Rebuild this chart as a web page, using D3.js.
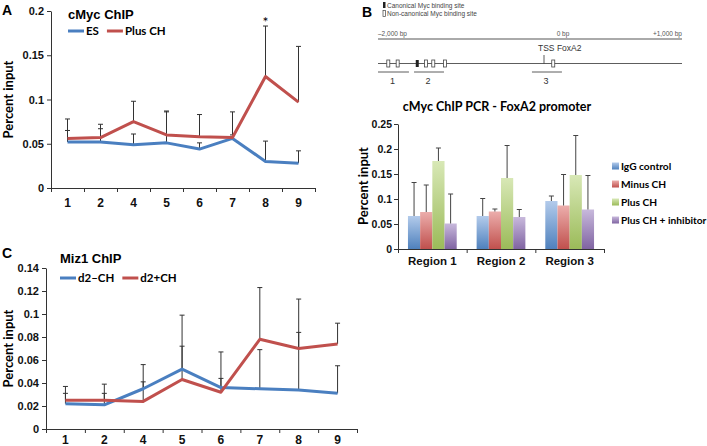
<!DOCTYPE html>
<html>
<head>
<meta charset="utf-8">
<script src="https://cdn.jsdelivr.net/npm/d3@7"></script>
<style>
  body { margin: 0; background: #fff; }
  svg { font-family: Lato, "Open Sans", sans-serif; }
  .axis text { font-weight: bold; fill: #111; }
  .axis path, .axis line { stroke: #333; }
</style>
</head>
<body>
<svg id="fig" width="707" height="446"></svg>
<script>
// ---- data ----
const sites = ["1", "2", "4", "5", "6", "7", "8", "9"]

// panel A: cMyc ChIP
const esVals = [0.052, 0.052, 0.049, 0.051, 0.044, 0.056, 0.030, 0.028]
const esErr = [0.065, 0.067, 0.061, 0.086, 0.051, 0.060, 0.053, 0.042]
const plusVals = [0.056, 0.057, 0.075, 0.060, 0.058, 0.057, 0.126, 0.097]
const plusErr = [0.078, 0.072, 0.098, 0.087, 0.083, 0.086, 0.183, 0.160]
const aTicks = [0, 0.05, 0.1, 0.15, 0.2]

// panel C: Miz1 ChIP
const minusCHVals = [0.022, 0.021, 0.035, 0.052, 0.036, 0.035, 0.034, 0.031]
const minusCHErr = [0.031, 0.031, 0.056, 0.099, 0.067, 0.069, 0.084, 0.055]
const plusCHVals = [0.025, 0.025, 0.024, 0.043, 0.032, 0.078, 0.070, 0.074]
const plusCHErr = [0.037, 0.039, 0.041, 0.072, 0.044, 0.123, 0.113, 0.092]
const cTicks = [0, 0.02, 0.04, 0.06, 0.08, 0.1, 0.12, 0.14]

// panel B: bars
const regions = ["Region 1", "Region 2", "Region 3"]
const conditions = ["IgG control", "Minus CH", "Plus CH", "Plus CH + inhibitor"]
const barVals = [
  [0.066, 0.074, 0.176, 0.051],
  [0.066, 0.075, 0.142, 0.064],
  [0.096, 0.087, 0.148, 0.079],
]
const barErr = [
  [0.133, 0.128, 0.202, 0.110],
  [0.101, 0.080, 0.207, 0.079],
  [0.106, 0.149, 0.227, 0.147],
]
const bTicks = [0, 0.05, 0.1, 0.15, 0.2, 0.25]

// panel B: promoter diagram (bp)
const canonicalSites = [-1527]
const nonCanonicalSites = [-1876, -1763, -1422, -1334, -1193, 67]
const ampliconNames = ["1", "2", "3"]
const ampliconStart = [-2000, -1566, -145]
const ampliconEnd = [-1627, -1205, 130]

const blue = "#4a7fc0"
const red = "#c0504d"
const barColors = ["#4f81bd", "#c0504d", "#9bbb59", "#8064a2"]
const barLight = ["#b3cbeb", "#ecaeac", "#d8e8b6", "#c8b9dc"]

const svg = d3.select("#fig")
const fmt = d => d === 0 ? "0" : String(+d.toFixed(2))

// ---- line chart helper ----
function drawLinePanel(opt) {
  const g = svg.append("g")
  const xBand = d3.scaleBand().domain(sites).range(opt.xRange)
  const xEdge = d3.scaleLinear().domain([0, sites.length]).range(opt.xRange)
  const y = d3.scaleLinear().domain(opt.yDomain).range(opt.yRange)
  const cx = d => xBand(d) + xBand.bandwidth() / 2

  // y axis
  g.append("g").attr("class", "axis")
    .attr("transform", `translate(${opt.xRange[0]},0)`)
    .call(d3.axisLeft(y).tickValues(opt.ticks).tickFormat(fmt).tickSize(4).tickSizeOuter(0))
    .call(a => a.selectAll("text").style("font-size", "11px").attr("x", -7))

  // x axis: boundary ticks + labels
  g.append("g").attr("class", "axis")
    .attr("transform", `translate(0,${opt.yRange[0]})`)
    .call(d3.axisBottom(xEdge).ticks(sites.length).tickFormat("").tickSize(4).tickSizeOuter(4))
  g.append("g").attr("class", "axis")
    .attr("transform", `translate(0,${opt.yRange[0]})`)
    .call(d3.axisBottom(xBand).tickSize(0))
    .call(a => a.select(".domain").remove())
    .call(a => a.selectAll("text").style("font-size", "12px").attr("dy", opt.xLabelDy))

  // error bars (upper only)
  opt.series.forEach(s => {
    const eb = g.append("g").attr("stroke", "#333").attr("stroke-width", 1)
    sites.forEach((k, i) => {
      eb.append("line").attr("x1", cx(k)).attr("x2", cx(k))
        .attr("y1", y(s.vals[i])).attr("y2", y(s.err[i]))
      eb.append("line").attr("x1", cx(k) - 2.5).attr("x2", cx(k) + 2.5)
        .attr("y1", y(s.err[i])).attr("y2", y(s.err[i]))
    })
  })

  // lines
  const line = d3.line().x((d, i) => cx(sites[i])).y(d => y(d))
  opt.series.forEach(s => {
    g.append("path").datum(s.vals)
      .attr("d", line)
      .attr("fill", "none")
      .attr("stroke", s.color)
      .attr("stroke-width", 3)
      .attr("stroke-linejoin", "round")
  })

  // y label
  g.append("text")
    .attr("transform", `translate(${opt.yLabelX},${(opt.yRange[0] + opt.yRange[1]) / 2}) rotate(-90)`)
    .attr("text-anchor", "middle")
    .style("font-size", "13px").style("font-weight", "bold")
    .text("Percent input")

  // panel letter + title
  g.append("text").attr("x", 2).attr("y", opt.letterY)
    .style("font-size", "14px").style("font-weight", "bold").style("font-family", "Liberation Sans")
    .text(opt.letter)
  g.append("text").attr("x", opt.titleX).attr("y", opt.titleY)
    .style("font-size", "13px").style("font-weight", "bold").style("font-family", "Liberation Sans")
    .text(opt.title)

  // legend
  let lx = opt.titleX
  opt.series.forEach(s => {
    g.append("line").attr("x1", lx).attr("x2", lx + 16)
      .attr("y1", opt.legendY).attr("y2", opt.legendY)
      .attr("stroke", s.color).attr("stroke-width", 3)
    const t = g.append("text").attr("x", lx + 18).attr("y", opt.legendY + 4)
      .style("font-size", "11.5px").style("font-weight", "bold").text(s.name)
    lx += 18 + t.node().getComputedTextLength() + 8
  })
}

drawLinePanel({
  letter: "A", letterY: 15, title: "cMyc ChIP", titleX: 68, titleY: 19, legendY: 31,
  xRange: [51, 315], yRange: [188, 11], yDomain: [0, 0.2], ticks: aTicks, yLabelX: 13,
  xLabelDy: "1.33em",
  series: [
    { name: "ES", vals: esVals, err: esErr, color: blue },
    { name: "Plus CH", vals: plusVals, err: plusErr, color: red },
  ],
})

// significance star over site 8
{
  const xb = d3.scaleBand().domain(sites).range([51, 315])
  svg.append("text").attr("x", xb("8") + xb.bandwidth() / 2).attr("y", 27)
    .attr("text-anchor", "middle").style("font-size", "14px").text("*")
}

drawLinePanel({
  letter: "C", letterY: 258, title: "Miz1 ChIP", titleX: 60, titleY: 263, legendY: 278,
  xRange: [46, 357], yRange: [429, 268], yDomain: [0, 0.14], ticks: cTicks, yLabelX: 12.5,
  xLabelDy: "0.98em",
  series: [
    { name: "d2\u2013CH", vals: minusCHVals, err: minusCHErr, color: blue },
    { name: "d2+CH", vals: plusCHVals, err: plusCHErr, color: red },
  ],
})

// ---- panel B: promoter diagram ----
{
  const g = svg.append("g")
  const bp = d3.scaleLinear().domain([-2000, 0, 1000]).range([378, 544, 682])
  g.append("text").attr("x", 362).attr("y", 17)
    .style("font-size", "14px").style("font-weight", "bold").style("font-family", "Liberation Sans").text("B")

  // key
  g.append("rect").attr("x", 383).attr("y", 2).attr("width", 2.5).attr("height", 6).attr("fill", "#222")
  g.append("text").attr("x", 387).attr("y", 8).style("font-size", "6.5px").style("font-family", "Liberation Sans")
    .attr("fill", "#444").text("Canonical Myc binding site")
  g.append("rect").attr("x", 383).attr("y", 10.5).attr("width", 2.5).attr("height", 6)
    .attr("fill", "#fff").attr("stroke", "#444").attr("stroke-width", 0.7)
  g.append("text").attr("x", 387).attr("y", 16).style("font-size", "6.5px").style("font-family", "Liberation Sans")
    .attr("fill", "#444").text("Non-canonical Myc binding site")

  // bp scale bar
  g.append("line").attr("x1", bp(-2000)).attr("x2", bp(1000)).attr("y1", 39).attr("y2", 39)
    .attr("stroke", "#aaa").attr("stroke-width", 2)
  const scaleLab = g.append("g").style("font-size", "6.5px").style("font-family", "Liberation Sans").attr("fill", "#555")
  scaleLab.append("text").attr("x", bp(-2000)).attr("y", 36).text("\u20132,000 bp")
  scaleLab.append("text").attr("x", bp(0) + 19).attr("y", 36).attr("text-anchor", "middle").text("0 bp")
  scaleLab.append("text").attr("x", bp(1000)).attr("y", 36).attr("text-anchor", "end").text("+1,000 bp")

  // promoter line
  g.append("line").attr("x1", bp(-2000)).attr("x2", bp(1000)).attr("y1", 63.5).attr("y2", 63.5)
    .attr("stroke", "#333").attr("stroke-width", 0.8)
  g.append("line").attr("x1", bp(0)).attr("x2", bp(0)).attr("y1", 55).attr("y2", 63.5)
    .attr("stroke", "#333").attr("stroke-width", 0.8)
  g.append("text").attr("x", bp(0) - 6).attr("y", 51).style("font-size", "8.5px")
    .style("font-family", "Liberation Sans").attr("fill", "#333").text("TSS FoxA2")

  g.selectAll(".nc").data(nonCanonicalSites).join("rect")
    .attr("x", d => bp(d) - 1.5).attr("y", 60).attr("width", 3).attr("height", 7)
    .attr("fill", "#fff").attr("stroke", "#444").attr("stroke-width", 0.8)
  g.selectAll(".can").data(canonicalSites).join("rect")
    .attr("x", d => bp(d) - 1.5).attr("y", 60).attr("width", 3).attr("height", 7)
    .attr("fill", "#222")

  ampliconNames.forEach((n, i) => {
    g.append("line").attr("x1", bp(ampliconStart[i])).attr("x2", bp(ampliconEnd[i]))
      .attr("y1", 72).attr("y2", 72).attr("stroke", "#333").attr("stroke-width", 0.8)
    g.append("text").attr("x", (bp(ampliconStart[i]) + bp(ampliconEnd[i])) / 2 - 1).attr("y", 84)
      .attr("text-anchor", "middle").style("font-size", "9px").style("font-family", "Liberation Sans")
      .attr("fill", "#333").text(n)
  })
}

// ---- panel B: bar chart ----
{
  const g = svg.append("g")
  const x0 = d3.scaleBand().domain(regions).range([398, 604]).paddingInner(0.29).paddingOuter(0.145)
  const xEdge = d3.scaleLinear().domain([0, regions.length]).range([398, 604])
  const x1 = d3.scaleBand().domain(conditions).range([0, x0.bandwidth()])
  const y = d3.scaleLinear().domain([0, 0.25]).range([249, 124])

  const defs = svg.append("defs")
  conditions.forEach((c, i) => {
    const gr = defs.append("linearGradient").attr("id", "grad" + i)
      .attr("x1", 0).attr("y1", 0).attr("x2", 0).attr("y2", 1)
    gr.append("stop").attr("offset", "0%").attr("stop-color", barLight[i])
    gr.append("stop").attr("offset", "100%").attr("stop-color", barColors[i])
  })

  g.append("g").attr("class", "axis")
    .attr("transform", "translate(398,0)")
    .call(d3.axisLeft(y).tickValues(bTicks).tickFormat(fmt).tickSize(4).tickSizeOuter(0))
    .call(a => a.selectAll("text").style("font-size", "10.5px").attr("x", -6))

  regions.forEach((r, ri) => {
    conditions.forEach((c, ci) => {
      const bx = x0(r) + x1(c)
      g.append("rect").attr("x", bx).attr("y", y(barVals[ri][ci]))
        .attr("width", x1.bandwidth()).attr("height", y(0) - y(barVals[ri][ci]))
        .attr("fill", `url(#grad${ci})`)
      const mx = bx + x1.bandwidth() / 2
      g.append("line").attr("x1", mx).attr("x2", mx)
        .attr("y1", y(barVals[ri][ci])).attr("y2", y(barErr[ri][ci]))
        .attr("stroke", "#444").attr("stroke-width", 1)
      g.append("line").attr("x1", mx - 2.5).attr("x2", mx + 2.5)
        .attr("y1", y(barErr[ri][ci])).attr("y2", y(barErr[ri][ci]))
        .attr("stroke", "#444").attr("stroke-width", 1)
    })
  })

  g.append("g").attr("class", "axis")
    .attr("transform", "translate(0,249)")
    .call(d3.axisBottom(xEdge).ticks(regions.length).tickFormat("").tickSize(4).tickSizeOuter(4))
  g.append("g").attr("class", "axis")
    .attr("transform", "translate(0,249)")
    .call(d3.axisBottom(x0).tickSize(0))
    .call(a => a.select(".domain").remove())
    .call(a => a.selectAll("text").style("font-size", "11.5px").attr("dy", "1.1em"))

  g.append("text").attr("x", 497).attr("y", 111).attr("text-anchor", "middle")
    .style("font-size", "12.5px").style("font-weight", "bold").text("cMyc ChIP PCR - FoxA2 promoter")

  g.append("text")
    .attr("transform", "translate(368,186) rotate(-90)")
    .attr("text-anchor", "middle")
    .style("font-size", "13px").style("font-weight", "bold")
    .text("Percent input")

  const leg = g.append("g")
  conditions.forEach((c, i) => {
    const ly = 166 + i * 18
    leg.append("rect").attr("x", 612).attr("y", ly - 3.5).attr("width", 7).attr("height", 7)
      .attr("fill", `url(#grad${i})`)
    leg.append("text").attr("x", 621).attr("y", ly + 4)
      .style("font-size", "10.2px").style("font-weight", "bold").text(c)
  })
}
</script>
</body>
</html>
